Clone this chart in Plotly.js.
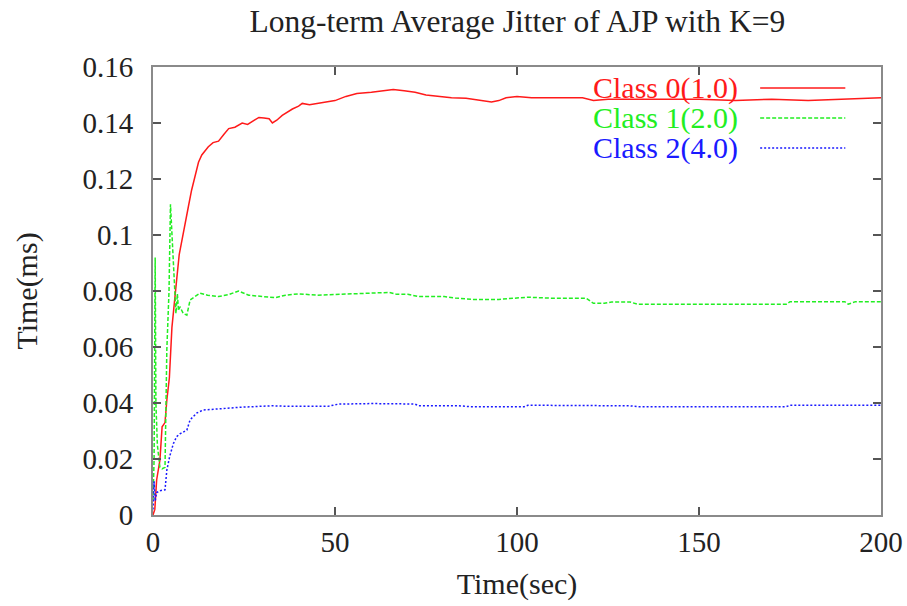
<!DOCTYPE html>
<html>
<head>
<meta charset="utf-8">
<script src="https://cdn.plot.ly/plotly-3.0.1.min.js"></script>
<style>html,body{margin:0;padding:0;background:#fff;}#chart{width:907px;height:606px;}</style>
</head>
<body>
<div id="chart"></div>
<script>
// Class 0(1.0)
var class0_t = [0,0.5,1.0,1.9,2.5,3.3,3.8,4.5,5.2,6.0,6.5,7.2,7.9,8.8,9.7,10.6,11.5,12.5,13.4,14.3,15.2,16.5,18,19.5,20.8,22.5,24.5,26,27.2,29.1,30.5,31.9,32.8,34,35.5,37,38.3,40,41,43,45,47,50,53,56,60,63,66,69,72,75,78,82,86,90,93,95,97,100,104,110,118,121,125,135,150,160,170,180,190,200];
var class0_v = [0,0.002,0.0125,0.0196,0.0315,0.033,0.041,0.049,0.067,0.079,0.084,0.093,0.098,0.105,0.110,0.116,0.121,0.126,0.1286,0.130,0.1315,0.133,0.1335,0.136,0.138,0.1385,0.140,0.1395,0.1405,0.142,0.1418,0.1415,0.140,0.141,0.1427,0.144,0.145,0.146,0.147,0.1465,0.147,0.1475,0.148,0.1495,0.1505,0.151,0.1515,0.152,0.1515,0.151,0.150,0.1495,0.149,0.1488,0.148,0.1475,0.148,0.149,0.1495,0.149,0.149,0.149,0.148,0.1485,0.1485,0.1485,0.148,0.1485,0.148,0.1485,0.149];
// Class 1(2.0)
var class1_t = [0,0.3,0.6,0.8,1.2,1.9,2.5,3.3,3.8,4.4,4.8,5.1,5.6,6.0,6.3,6.7,7.0,7.4,8.3,9.3,10.2,11.5,12.9,15,18,21,23.5,26.3,29,33.6,36.4,40,45,51,55,60,65,67,70,73,80,83,88,95,98,103,110,119,121,124,126,131,133,145,160,174,175,185,190,191,193,200];
var class1_v = [0.005,0.02,0.092,0.04,0.025,0.017,0.0165,0.017,0.059,0.08,0.111,0.103,0.0887,0.0815,0.072,0.079,0.073,0.0744,0.072,0.0714,0.0768,0.078,0.0792,0.0785,0.078,0.0788,0.080,0.0785,0.0782,0.0776,0.0785,0.079,0.0785,0.0788,0.079,0.0795,0.0795,0.0788,0.0788,0.078,0.078,0.0775,0.077,0.077,0.0774,0.0778,0.0774,0.0774,0.0756,0.0756,0.0761,0.0761,0.0753,0.0753,0.0753,0.0753,0.0762,0.0762,0.0762,0.0753,0.0762,0.0762];
// Class 2(4.0)
var class2_t = [0,0.3,0.6,1.0,2.0,3.3,3.8,4.6,5.6,6.5,7.4,9.3,10.2,12,13.8,16,19.2,23.9,28,33,37.6,40,48,51,60,68,72,73,84,87,102,103,120,122,131,133,174,175,200];
var class2_v = [0.002,0.012,0.005,0.008,0.0087,0.009,0.016,0.021,0.0255,0.028,0.029,0.0303,0.034,0.0364,0.0375,0.0378,0.038,0.0385,0.0388,0.039,0.0388,0.0388,0.0388,0.0396,0.0398,0.0397,0.0396,0.039,0.039,0.0387,0.0387,0.0392,0.0392,0.039,0.039,0.0387,0.0387,0.0392,0.0392];

var seriesNames = ["Class 0(1.0)", "Class 1(2.0)", "Class 2(4.0)"];
var seriesColors = ["#ff1a1a", "#22ee22", "#1a1aff"];
var seriesDash = ["solid", "4px,2px", "2px,2px"];
var xTicks = [0, 50, 100, 150, 200];
var yTicks = [0, 0.02, 0.04, 0.06, 0.08, 0.1, 0.12, 0.14, 0.16];
var yTickText = ["0", "0.02", "0.04", "0.06", "0.08", "0.1", "0.12", "0.14", "0.16"];

var xs = [class0_t, class1_t, class2_t];
var ys = [class0_v, class1_v, class2_v];
var traces = [];
for (var i = 0; i < 3; i++) {
  traces.push({
    x: xs[i], y: ys[i], type: "scatter", mode: "lines", name: seriesNames[i],
    line: {color: seriesColors[i], width: 1.5, dash: seriesDash[i]},
    showlegend: false
  });
}

var font = "Liberation Serif, Times New Roman, serif";
var annotations = [];
var shapes = [];
var legY = [0.953, 0.886, 0.819];
for (var j = 0; j < 3; j++) {
  annotations.push({
    xref: "paper", yref: "paper", x: 0.806, y: legY[j], xanchor: "right", yanchor: "middle",
    text: seriesNames[j], showarrow: false,
    font: {family: font, size: 30, color: seriesColors[j]}
  });
  shapes.push({
    type: "line", xref: "paper", yref: "paper", x0: 0.834, x1: 0.951, y0: legY[j], y1: legY[j],
    line: {color: seriesColors[j], width: 1.5, dash: seriesDash[j]}
  });
}

var layout = {
  width: 907, height: 606,
  margin: {l: 153, r: 26, t: 67, b: 91},
  paper_bgcolor: "#ffffff", plot_bgcolor: "#ffffff",
  font: {family: font, size: 29, color: "#222"},
  title: {text: "Long-term Average Jitter of AJP with K=9", x: 0.5705, xanchor: "center", y: 0.966, yanchor: "middle",
    font: {family: font, size: 31.5, color: "#222"}},
  xaxis: {
    range: [0, 200], tickvals: xTicks, ticktext: xTicks.map(String),
    showgrid: false, zeroline: false,
    showline: true, linecolor: "#8a8a8a", linewidth: 2, mirror: "ticks",
    ticks: "inside", ticklen: 8, tickcolor: "#555", tickwidth: 1.5,
    tickfont: {family: font, size: 29, color: "#222"},
    title: {text: "Time(sec)", font: {family: font, size: 30, color: "#222"}, standoff: 16}
  },
  yaxis: {
    range: [0, 0.16], tickvals: yTicks, ticktext: yTickText,
    showgrid: false, zeroline: false,
    showline: true, linecolor: "#8a8a8a", linewidth: 2, mirror: "ticks",
    ticks: "inside", ticklen: 8, tickcolor: "#555", tickwidth: 1.5,
    ticklabelstandoff: 12,
    tickfont: {family: font, size: 29, color: "#222"},
    title: {text: "Time(ms)", font: {family: font, size: 30, color: "#222"}, standoff: 36}
  },
  annotations: annotations,
  shapes: shapes
};

Plotly.newPlot("chart", traces, layout, {staticPlot: true, displayModeBar: false});
</script>
</body>
</html>
